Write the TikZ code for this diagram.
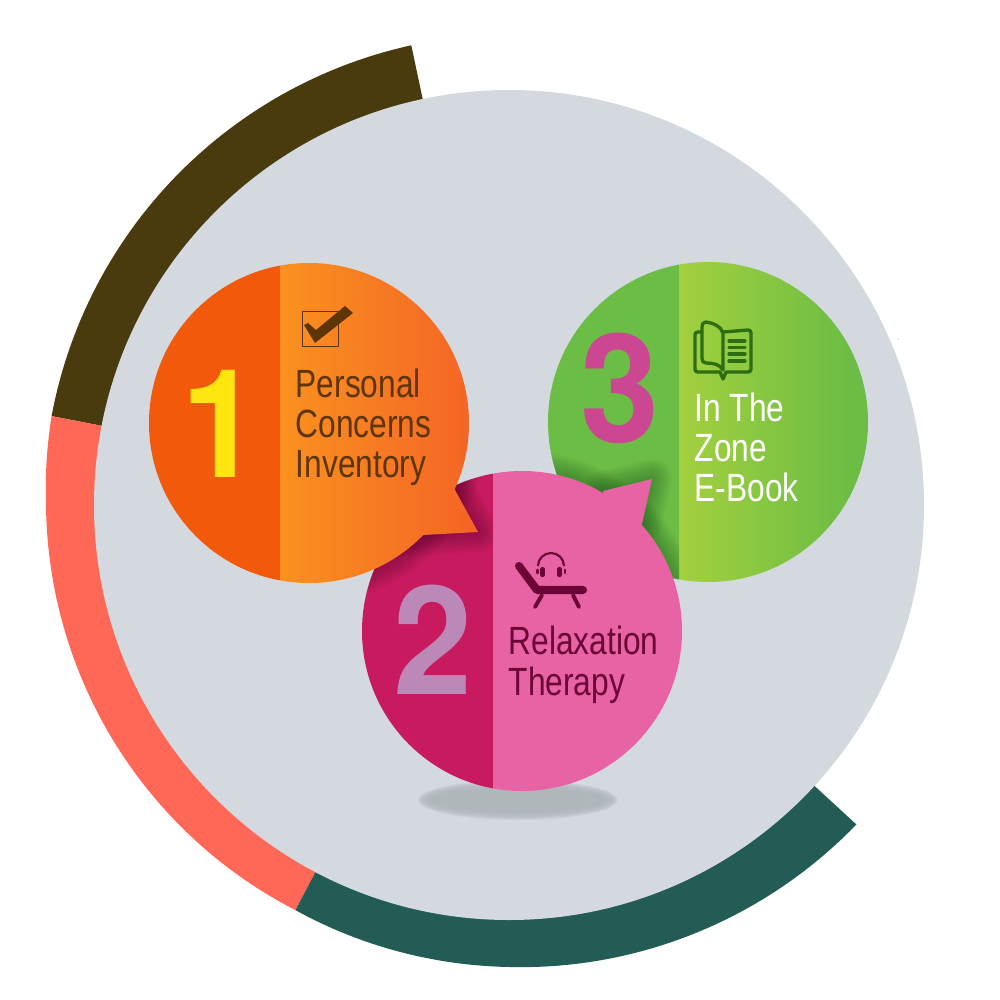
\documentclass[tikz,border=0pt]{standalone}
\usepackage{fontspec}
\setmainfont{Liberation Sans}
\newfontfamily\narrowsans[FakeStretch=0.805]{Liberation Sans}
\newfontfamily\numfont[FakeStretch=0.94]{TeX Gyre Heros}
\definecolor{ringbrown}{HTML}{4A3B0E}
\definecolor{ringcoral}{HTML}{FF6756}
\definecolor{ringteal}{HTML}{235C54}
\definecolor{disc}{HTML}{D4D9E0}
\definecolor{orangeA}{HTML}{F3590A}
\definecolor{orangeB}{HTML}{FA911F}
\definecolor{orangeC}{HTML}{F46326}
\definecolor{pinkA}{HTML}{C81A5E}
\definecolor{pinkB}{HTML}{E763A4}
\definecolor{greenA}{HTML}{6CBD45}
\definecolor{greenB}{HTML}{A3D03E}
\definecolor{brownT}{HTML}{5E3506}
\definecolor{wine}{HTML}{6A0535}
\definecolor{bookgreen}{HTML}{2D6E14}
\definecolor{groundgrey}{HTML}{B0B7BB}
\definecolor{numone}{HTML}{FFE60F}
\definecolor{numtwo}{HTML}{BC88B8}
\definecolor{numthree}{HTML}{CC4791}
\definecolor{shadowgreen}{HTML}{1F5A1F}
\definecolor{shadowpink}{HTML}{5A0A30}
\tikzset{
  label/.style={font=\narrowsans\fontsize{11.2}{13}\selectfont,anchor=base west,inner sep=0pt},
  numeral/.style={font=\numfont\bfseries\fontsize{43}{43}\selectfont,anchor=base,inner sep=0pt},
  bookline/.style={draw=bookgreen,line width=0.95pt,line join=round,line cap=round},
}
\newcommand{\tailone}{(440,440) -- (455,490) -- (478,532) -- (423,535) -- (370,540) -- cycle}
\newcommand{\tailtwo}{(603,491) -- (652,479) -- (642,524) -- (610,540) -- cycle}
\begin{document}
\begin{tikzpicture}[x=0.01cm,y=-0.01cm]
\useasboundingbox (0,0) rectangle (1000,1000);
\fill[white] (0,0) rectangle (1000,1000);
% rings
\begin{scope}[yscale=-1,shift={(509,-505)}]
  \fill[ringbrown] plot[domain=102:169,samples=60] (\x:{470-4*(\x-102)/67}) -- (169:405) -- (102:405) -- cycle;
  \fill[ringcoral] plot[domain=169:180,samples=10] (\x:{466-3*(\x-169)/11})
     -- plot[domain=180:242.2,samples=50] (\x:{463-5*(\x-180)/62.2}) -- (242.2:405) -- (169:405) -- cycle;
  \fill[ringteal] plot[domain=242.2:270,samples=25] (\x:{458+4*(\x-242.2)/27.8})
     -- plot[domain=270:317.4,samples=40] (\x:{462+10*(\x-270)/47.4}) -- (317.4:405) -- (242.2:405) -- cycle;
\end{scope}
\fill[disc] (509,505) circle[radius=415];
\fill[gray!70] (898,339) circle[radius=0.6];
% ground shadow
\foreach \k in {0,...,9}
  \fill[groundgrey,opacity=0.25] (518,800) ellipse[x radius={100-\k*1.5},y radius={20-\k*1.0}];
% circle 3
\begin{scope}
  \clip (708,422) circle[radius=160];
  \fill[greenA] (540,250) rectangle (679,600);
  \shade[left color=greenB,right color=greenA] (679,250) rectangle (850,600);
  \fill[greenA] (849,250) rectangle (880,600);
  \clip (540,250) rectangle (679,600);
  \foreach \w in {4,8,...,40}{
    \draw[draw=shadowgreen,opacity=0.05,line width=\w*0.2845pt,line join=round] (522,631) circle[radius=160];
    \draw[draw=shadowgreen,opacity=0.05,line width=\w*0.2845pt,line join=round] \tailtwo;
  }
\end{scope}
% circle 2
\begin{scope}
  \clip (522,631) circle[radius=160];
  \fill[pinkA] (350,460) rectangle (493,800);
  \fill[pinkB] (493,460) rectangle (700,800);
\end{scope}
\fill[pinkB] \tailtwo;
% shadow of circle 1 on circle 2
\begin{scope}
  \clip (522,631) circle[radius=160];
  \clip (350,460) rectangle (493,800);
  \foreach \w in {4,8,...,40}{
    \draw[draw=shadowpink,opacity=0.05,line width=\w*0.2845pt,line join=round] (309,423) circle[radius=160];
    \draw[draw=shadowpink,opacity=0.05,line width=\w*0.2845pt,line join=round] \tailone;
  }
\end{scope}
% circle 1
\begin{scope}
  \clip (309,423) circle[radius=160];
  \fill[orangeA] (140,250) rectangle (280,600);
  \shade[left color=orangeB,right color=orangeC] (280,250) rectangle (478,600);
\end{scope}
\begin{scope}
  \clip \tailone;
  \shade[left color=orangeB,right color=orangeC] (280,250) rectangle (478,600);
\end{scope}
% numerals
\node[numeral,text=numone] (nfirst) at (221,477) {1};
\node[numeral,text=numtwo] (nsecond) at (433.5,694) {2};
\node[numeral,text=numthree] (nthird) at (620.5,442) {3};
% labels
\node[label,text=brownT] (a1) at (295,397) {Personal};
\node[label,text=brownT] (a2) at (295,437) {Concerns};
\node[label,text=brownT] (a3) at (295,477) {Inventory};
\node[label,text=wine] (b1) at (508,654) {Relaxation};
\node[label,text=wine] (b2) at (508,695) {Therapy};
\node[label,text=white] (c1) at (694,421) {In The};
\node[label,text=white] (c2) at (694,461) {Zone};
\node[label,text=white] (c3) at (694,501) {E-Book};
% checkbox icon
\draw[brownT,line width=0.4pt] (302.5,311.5) rectangle (338.5,346.5);
\fill[brownT] (304,325) -- (315,343) -- (353,313) -- (345,306) -- (316,330) -- (308,323) -- cycle;
% lounger icon
\draw[wine,line width=2.3pt,line cap=round,line join=round] (519,566) -- (537,590) -- (583,590);
\draw[wine,line width=1.1pt,line cap=round] (542,595) -- (535,607) (573,595) -- (579,607);
\draw[wine,line width=0.6pt] (538,566) arc[start angle=180,end angle=360,radius=13];
\draw[wine,line width=1.2pt,line cap=round] (542.5,569) -- (542.5,575) (559.5,569) -- (559.5,575);
\draw[wine,line width=0.8pt,line cap=round] (537.5,570) -- (537.5,573) (565,570) -- (565,573);
% book icon
\draw[bookline] (702,332) -- (698,332) .. controls (696,332) and (695,333) .. (695,335) -- (695,369) .. controls (695,371) and (696,372) .. (698,372) -- (720,372) -- (723,379) -- (726,372) -- (748,372) .. controls (750,372) and (751,371) .. (751,369) -- (751,333) .. controls (751,331) and (750,330) .. (748,330) -- (723,332);
\draw[bookline] (702,327) .. controls (702,324) and (703,322) .. (706,322) .. controls (713,323) and (721,326) .. (723,333) -- (723,370) .. controls (720,364) and (712,363) .. (706,363) .. controls (703,363) and (702,361) .. (702,358) -- cycle;
\draw[bookline] (729,341) -- (745,341) (729,347.5) -- (745,347.5) (729,354) -- (745,354) (729,361) -- (745,361);
\end{tikzpicture}
\end{document}
